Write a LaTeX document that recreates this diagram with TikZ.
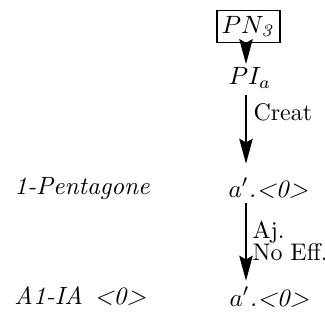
\documentclass[tikz,border=0pt]{standalone}
\usepackage{tikz}
\usetikzlibrary{positioning,calc,arrows.meta}

\begin{document}
\begin{tikzpicture}[x=0.4pt, y=-0.4pt,
        every node/.style={font=\normalsize},
        box/.style={rectangle, draw=black, line width=0.6pt, inner sep=1.8pt, minimum height=12.8pt, minimum width=22pt},
        term/.style={anchor=base west, inner sep=0pt},
        arrow/.style={-{Stealth[length=10pt, width=5.4pt, inset=1.5pt]}, line width=0.6pt, draw=black},
        lbl/.style={anchor=west, align=left, inner sep=0pt, font=\fontsize{9.6pt}{11pt}\selectfont},
    ]
        \useasboundingbox (0,0) rectangle (325,322);

        \node[box] (pn) at (248.5, 26.5) {$PN_{\mathit{3}}$};
        \node[inner sep=0pt] (pia) at (250, 78) {$PI_a$};
        \node[term] (a1) at (228, 197) {$a'$\textit{.<0>}};
        \node[term] (a2) at (229, 306) {$a'$\textit{.<0>}};

        \node[term] (pent) at (14, 194) {\textit{1-Pentagone}};
        \node[term] (aia) at (14, 304) {\textit{A1-IA\hspace{4.5pt}<0>}};

        % column of the arrows
        \coordinate (col) at (246, 0);

        \draw[arrow] (pn.south -| col) -- ($(pia.north -| col)+(0,-3)$);
        \draw[arrow] ($(pia.south -| col)+(0,6)$) -- ($(a1.north -| col)+(0,-14)$);
        \draw[arrow] ($(a1.south -| col)+(0,4)$) -- ($(a2.north -| col)+(0,-6)$);

        \node[lbl] (creat) at (253, 112) {Creat};
        \node[lbl] (aj) at (252, 241) {Aj.\\[-2pt]No Eff.};

    \end{tikzpicture}
\end{document}
